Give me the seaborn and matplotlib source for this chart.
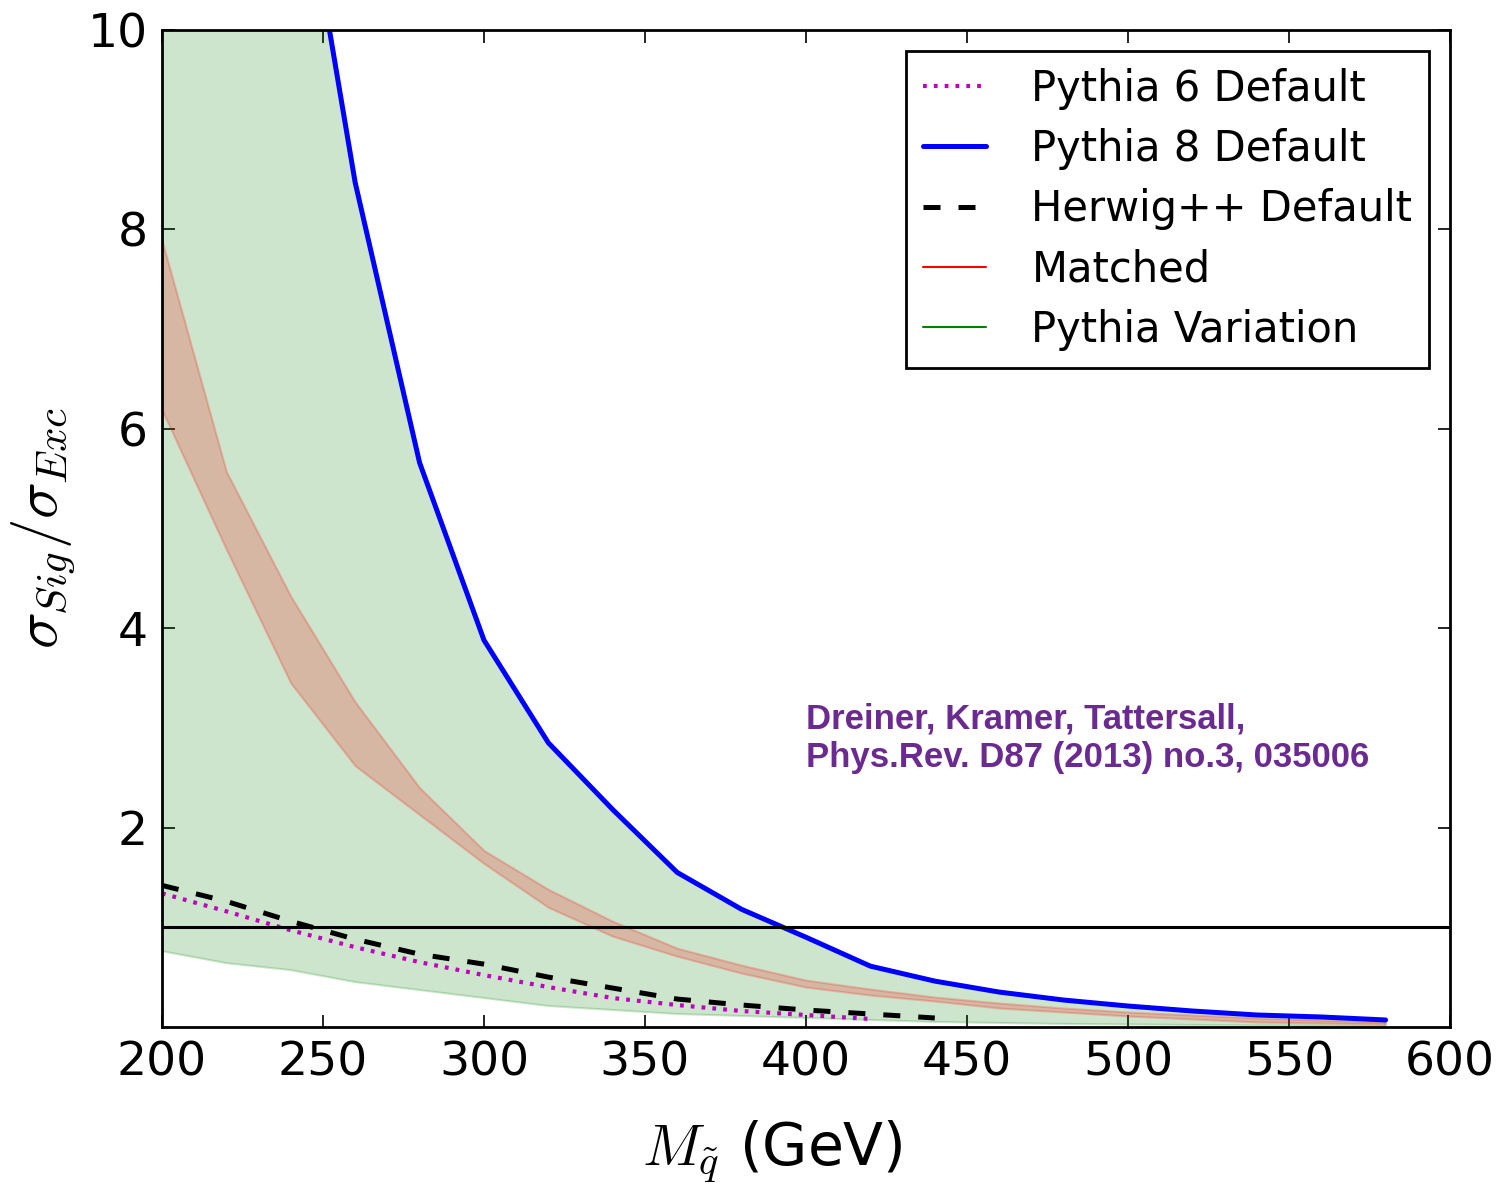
import matplotlib
matplotlib.use("Agg")
import matplotlib.pyplot as plt
import seaborn as sns
import pandas as pd
from matplotlib.lines import Line2D

# squark mass points (GeV)
mass = [200, 220, 240, 260, 280, 300, 320, 340, 360, 380,
        400, 420, 440, 460, 480, 500, 520, 540, 560, 580]

pythia8 = [24.0, 17.0, 12.3, 8.47, 5.66, 3.88, 2.85, 2.18, 1.55, 1.18,
           0.90, 0.61, 0.46, 0.35, 0.27, 0.21, 0.16, 0.12, 0.10, 0.07]

mass_p6 = [200, 220, 240, 260, 280, 300, 320, 340, 360, 380, 400, 420]
pythia6 = [1.34, 1.16, 0.97, 0.80, 0.65, 0.52, 0.40, 0.29, 0.22, 0.16, 0.12, 0.08]

mass_hw = [200, 220, 240, 260, 280, 300, 320, 340, 360, 380, 400, 420, 440]
herwig = [1.42, 1.26, 1.06, 0.88, 0.73, 0.63, 0.50, 0.39, 0.28, 0.22, 0.17, 0.13, 0.09]

matched_hi = [7.89, 5.57, 4.32, 3.26, 2.40, 1.77, 1.38, 1.06, 0.79, 0.62,
              0.47, 0.38, 0.30, 0.24, 0.19, 0.15, 0.12, 0.09, 0.07, 0.05]
matched_lo = [6.19, 4.79, 3.45, 2.62, 2.13, 1.64, 1.20, 0.91, 0.71, 0.54,
              0.40, 0.32, 0.26, 0.19, 0.15, 0.11, 0.08, 0.05, 0.04, 0.03]

variation_hi = pythia8
variation_lo = [0.76, 0.64, 0.57, 0.45, 0.37, 0.29, 0.21, 0.17, 0.13, 0.11,
                0.09, 0.07, 0.05, 0.04, 0.03, 0.025, 0.02, 0.015, 0.012, 0.01]

xticks = [200, 250, 300, 350, 400, 450, 500, 550, 600]
yticks = [2, 4, 6, 8, 10]

sns.set_style("ticks")
plt.rcParams.update({
    "font.family": ["DejaVu Sans"],
    "mathtext.fontset": "cm",
    "text.color": "k",
    "axes.labelcolor": "k",
    "xtick.color": "k",
    "ytick.color": "k",
    "xtick.direction": "in",
    "ytick.direction": "in",
    "xtick.top": True,
    "ytick.right": True,
})

fig = plt.figure(figsize=(14.97, 11.86), dpi=100)
ax = fig.add_axes([0.1082, 0.1341, 0.8604, 0.8406])

df = pd.DataFrame({"mass": mass, "p8": pythia8})
df6 = pd.DataFrame({"mass": mass_p6, "p6": pythia6})
dfh = pd.DataFrame({"mass": mass_hw, "hw": herwig})

ax.fill_between(mass, variation_lo, variation_hi, color="g", alpha=0.2, linewidth=1.5)
ax.fill_between(mass, matched_lo, matched_hi, color="r", alpha=0.2, linewidth=1.5)

sns.lineplot(data=df6, x="mass", y="p6", ax=ax, color="m", linewidth=3.0,
             linestyle=(0, (0.9, 1.7)), label="Pythia 6 Default")
sns.lineplot(data=df, x="mass", y="p8", ax=ax, color="b", linewidth=3.6,
             label="Pythia 8 Default")
sns.lineplot(data=dfh, x="mass", y="hw", ax=ax, color="k", linewidth=3.6,
             linestyle=(0, (3.4, 3.6)), label="Herwig++ Default")
ax.axhline(1.0, color="k", linewidth=2.2)

handles, labels = ax.get_legend_handles_labels()
handles += [Line2D([], [], color="r", linewidth=1.5),
            Line2D([], [], color="g", linewidth=1.5)]
labels += ["Matched", "Pythia Variation"]
leg = ax.legend(handles, labels, loc="upper right", fontsize=30,
                handlelength=1.5, handletextpad=1.1, labelspacing=0.44,
                borderaxespad=0.5, fancybox=False, framealpha=1)
leg.get_frame().set_edgecolor("k")
leg.get_frame().set_linewidth(2)

ax.text(400, 3.25, "Dreiner, Kramer, Tattersall,\nPhys.Rev. D87 (2013) no.3, 035006",
        family="Liberation Sans", fontweight="bold", fontsize=25,
        color="#6B2A90", va="top", ha="left", linespacing=1.2)

ax.set_xlim(200, 600)
ax.set_ylim(0, 10)
ax.set_xticks(xticks)
ax.set_yticks(yticks)
ax.tick_params(labelsize=34, length=9, width=1.2, pad=10)
for s in ax.spines.values():
    s.set_linewidth(2)
    s.set_color("k")

ax.set_xlabel(r"$M_{\tilde{q}}$ (GeV)", fontsize=42)
ax.xaxis.set_label_coords(0.474, -0.092, transform=ax.transAxes)
ax.xaxis.label.set_va("top")
ax.set_ylabel(r"$\sigma_{Sig}/\sigma_{Exc}$", fontsize=44, labelpad=8)

fig.savefig("out.png", dpi=100)
